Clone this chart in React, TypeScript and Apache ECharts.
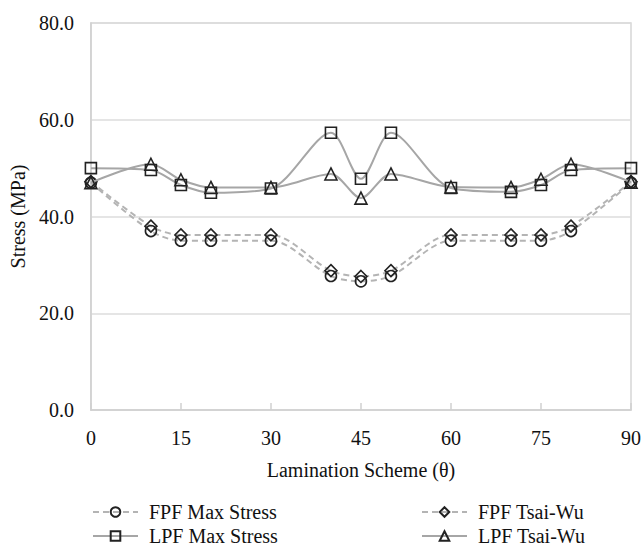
import React, { useEffect, useRef } from "react";
import * as echarts from "echarts";

const angles = [0, 10, 15, 20, 30, 40, 45, 50, 60, 70, 75, 80, 90];
const fpfMaxStress = [47.0, 37.0, 35.0, 35.0, 35.0, 27.7, 26.6, 27.7, 35.0, 35.0, 35.0, 37.0, 47.0];
const fpfTsaiWu = [47.2, 38.0, 36.2, 36.2, 36.2, 28.8, 27.6, 28.8, 36.2, 36.2, 36.2, 38.0, 47.2];
const lpfMaxStress = [50.0, 49.6, 46.5, 44.9, 45.8, 57.3, 47.8, 57.3, 45.9, 45.1, 46.5, 49.6, 50.0];
const lpfTsaiWu = [47.0, 50.8, 47.6, 46.0, 46.0, 48.8, 43.8, 48.8, 46.1, 46.0, 47.7, 50.8, 47.1];
const xTicks = [0, 15, 30, 45, 60, 75, 90];
const yTicks = [0, 20, 40, 60, 80];
const legendLayout = [
  { name: "FPF Max Stress", col: 0, row: 0 },
  { name: "LPF Max Stress", col: 0, row: 1 },
  { name: "FPF Tsai-Wu", col: 1, row: 0 },
  { name: "LPF Tsai-Wu", col: 1, row: 1 },
];

const FONT = "'Liberation Serif', 'Times New Roman', Times, serif";

export default function App() {
  const ref = useRef<HTMLDivElement>(null);
  useEffect(() => {
    if (!ref.current) return;
    const chart = echarts.init(ref.current, null, { renderer: "svg" });
    const pairs = (ys: number[]) => angles.map((a, i) => [a, ys[i]]);
    const mk = (name: string, ys: number[], symbol: string, dashed: boolean, size: number) => ({
      name,
      type: "line",
      data: pairs(ys),
      smooth: 0.3,
      symbol,
      symbolSize: size,
      showAllSymbol: true,
      lineStyle: {
        color: dashed ? "#b4b4b4" : "#a6a6a6",
        width: 2,
        type: dashed ? [6, 4] : "solid",
      },
      itemStyle: { color: "rgba(255,255,255,0)", borderColor: "#222", borderWidth: 1.6 },
      emphasis: { disabled: true },
      z: dashed ? 2 : 3,
    });
    const legendText = { fontFamily: FONT, fontSize: 20, color: "#111", padding: [0, 0, 0, 6] };
    chart.setOption({
      animation: false,
      backgroundColor: "#fff",
      textStyle: { fontFamily: FONT },
      grid: {
        left: 87,
        right: 13,
        top: 23,
        bottom: 140,
        show: true,
        borderColor: "#d6d6d6",
        borderWidth: 1.5,
      },
      legend: legendLayout.map((l) => ({
        orient: "horizontal",
        left: l.col === 0 ? 92 : 421,
        top: l.row === 0 ? 502 : 526,
        itemWidth: 45,
        itemHeight: 12,
        padding: 0,
        textStyle: legendText,
        data: [l.name],
      })),
      xAxis: {
        type: "value",
        min: xTicks[0],
        max: xTicks[xTicks.length - 1],
        interval: 15,
        name: "Lamination Scheme (θ)",
        nameLocation: "middle",
        nameGap: 50,
        nameTextStyle: { fontFamily: FONT, fontSize: 20, color: "#111" },
        axisLine: { lineStyle: { color: "#d0d0d0", width: 1.5 } },
        axisTick: { show: true, inside: true, length: 7, lineStyle: { color: "#d0d0d0", width: 1.5 } },
        axisLabel: { fontFamily: FONT, fontSize: 20, color: "#111", margin: 18 },
        splitLine: { show: false },
      },
      yAxis: {
        type: "value",
        min: yTicks[0],
        max: yTicks[yTicks.length - 1],
        interval: 20,
        name: "Stress (MPa)",
        nameLocation: "middle",
        nameGap: 59,
        nameTextStyle: { fontFamily: FONT, fontSize: 20, color: "#111" },
        axisLine: { show: true, lineStyle: { color: "#d0d0d0", width: 1.5 } },
        axisTick: { show: false },
        axisLabel: {
          fontFamily: FONT,
          fontSize: 20,
          color: "#111",
          margin: 17,
          formatter: (v: number) => v.toFixed(1),
        },
        splitLine: { show: true, lineStyle: { color: "#dcdcdc", width: 1.5 } },
      },
      series: [
        mk("FPF Max Stress", fpfMaxStress, "circle", true, 11),
        mk("FPF Tsai-Wu", fpfTsaiWu, "diamond", true, 12),
        mk("LPF Max Stress", lpfMaxStress, "rect", false, 11),
        mk("LPF Tsai-Wu", lpfTsaiWu, "triangle", false, 12),
      ],
    });
    return () => chart.dispose();
  }, []);
  return <div ref={ref} style={{ width: 644, height: 550, position: "absolute", left: 0, top: 0 }} />;
}
